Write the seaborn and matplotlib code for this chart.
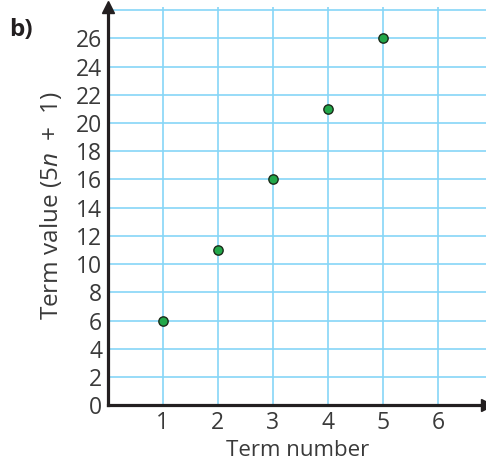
import matplotlib
matplotlib.use("Agg")
import matplotlib.pyplot as plt
import seaborn as sns
import pandas as pd

term_number = [1, 2, 3, 4, 5]
term_value = [6, 11, 16, 21, 26]
x_ticks = [1, 2, 3, 4, 5, 6]
y_ticks = list(range(0, 30, 2))
y_labels = [str(v) if v <= 26 else "" for v in y_ticks]

sns.set_style("white")
plt.rcParams['font.family'] = ['Open Sans', 'DejaVu Sans']
plt.rcParams['mathtext.fontset'] = 'custom'
plt.rcParams['mathtext.it'] = 'Open Sans:italic'
plt.rcParams['mathtext.rm'] = 'Open Sans'

fig = plt.figure(figsize=(4.86, 4.63), dpi=100)
ax = fig.add_axes([0.222, 0.125, 0.781, 0.859])

df = pd.DataFrame({"n": term_number, "v": term_value})
grid_c = "#86d6f7"
ax.set_xlim(0, 6.9)
ax.set_ylim(0, 28.2)
ax.set_xticks(x_ticks)
ax.set_xticklabels([str(v) for v in x_ticks])
ax.set_yticks(y_ticks)
ax.set_yticklabels(y_labels)
ax.grid(True, color=grid_c, linewidth=1.2, zorder=0)
ax.set_axisbelow(True)

sns.scatterplot(data=df, x="n", y="v", ax=ax, s=45, color="#22a84a",
                edgecolor="#1a2a1a", linewidth=1.0, zorder=5)

for s in ["top", "right"]:
    ax.spines[s].set_visible(False)
for s in ["left", "bottom"]:
    ax.spines[s].set_color("#231f20")
    ax.spines[s].set_linewidth(2.3)
ax.tick_params(length=0, labelsize=16.5, colors="#3a3a3a", pad=4)

ax.plot(1, 0, marker=">", color="#231f20", markersize=9,
        transform=ax.get_yaxis_transform(), clip_on=False, zorder=6)
ax.plot(0, 1, marker="^", color="#231f20", markersize=9,
        transform=ax.get_xaxis_transform(), clip_on=False, zorder=6)

ax.set_xlabel("Term number", fontsize=16, color="#3a3a3a", labelpad=4)
ax.set_ylabel("Term value (5$\\it{n}$  +  1)", fontsize=17.5, color="#3a3a3a", labelpad=9)

fig.text(0.018, 0.922, "b)", fontsize=17.5, fontweight="bold", color="#231f20")

fig.savefig("out.png", dpi=100)
